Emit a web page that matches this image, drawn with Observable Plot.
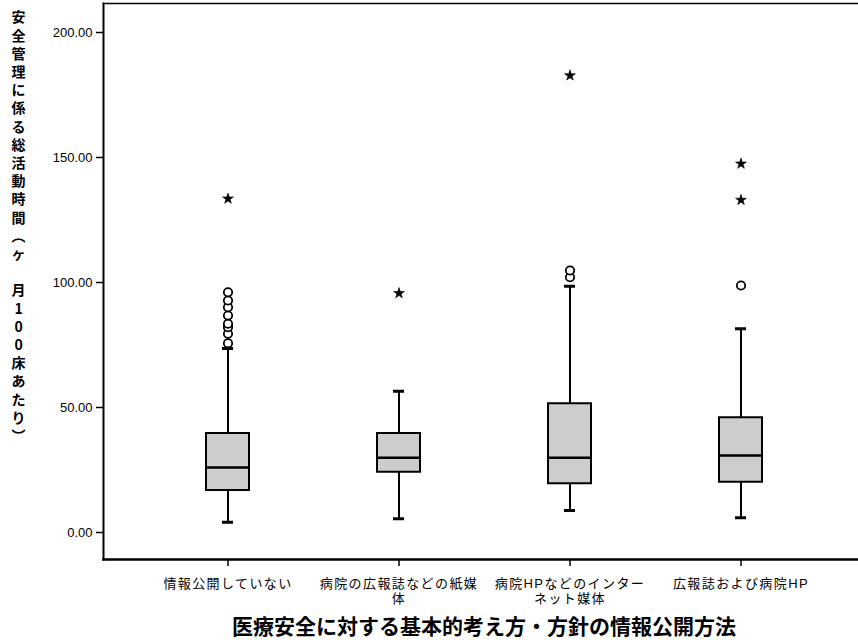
<!DOCTYPE html>
<html><head><meta charset="utf-8">
<script src="https://cdn.jsdelivr.net/npm/d3@7"></script>
<script src="https://cdn.jsdelivr.net/npm/@observablehq/plot@0.6"></script>
<style>body{margin:0;background:#fff;overflow:hidden}</style>
</head><body><div id="chart"></div>
<script>
const categories = ["情報公開していない", "病院の広報誌などの紙媒\n体", "病院HPなどのインター\nネット媒体", "広報誌および病院HP"];
const whiskerLow = [4.1, 5.5, 8.8, 5.9];
const q1 = [16.8, 24.1, 19.5, 20.1];
const median = [26.0, 29.9, 29.9, 30.8];
const q3 = [39.6, 39.6, 51.5, 45.9];
const whiskerHigh = [73.6, 56.5, 98.5, 81.5];
const outliers = [[75.7, 79.5, 82.1, 83.5, 86.8, 90.1, 92.8, 96.1], [], [102.1, 104.8], [98.8]];
const extremes = [[133.5], [95.7], [182.8], [133.0, 147.5]];
const yTicks = [0, 50, 100, 150, 200];
const yLabel = "安全管理に係る総活動時間︵ヶ　月100床あたり︶";
const xTitle = "医療安全に対する基本的考え方・方針の情報公開方法";

const stats = categories.map((c, i) => ({cat: c, low: whiskerLow[i], q1: q1[i], med: median[i], q3: q3[i], high: whiskerHigh[i]}));
const circleData = categories.flatMap((c, i) => outliers[i].map(v => ({cat: c, v})));
const starData = categories.flatMap((c, i) => extremes[i].map(v => ({cat: c, v})));

const chart = Plot.plot({
  width: 858, height: 643,
  marginLeft: 103, marginRight: 0, marginTop: 3, marginBottom: 84,
  style: {fontFamily: "'Liberation Sans', 'Noto Sans CJK JP', sans-serif", background: "#fff", color: "#000"},
  x: {type: "band", domain: categories, range: [118.7, 848.3], paddingInner: 0.75, paddingOuter: 0.5, label: null},
  y: {domain: [-10.8, 211.6], label: null},
  marks: [
    Plot.frame({anchor: "top", strokeWidth: 1.5}),
    Plot.frame({anchor: "bottom", strokeWidth: 2.5}),
    Plot.frame({anchor: "left", strokeWidth: 2}),
    Plot.axisY({ticks: yTicks, tickFormat: d3.format(".2f"), tickSize: 7, tickPadding: 4, fontSize: 13, strokeWidth: 1.5}),
    Plot.axisX({tickSize: 7, tickPadding: 11, fontSize: 13, lineHeight: 1.15, strokeWidth: 1.5}),
    Plot.ruleX(stats, {x: "cat", y1: "low", y2: "q1", strokeWidth: 2}),
    Plot.ruleX(stats, {x: "cat", y1: "q3", y2: "high", strokeWidth: 2}),
    Plot.barY(stats, {x: "cat", y1: "q1", y2: "q3", fill: "#cdcdcd", stroke: "#000", strokeWidth: 2}),
    Plot.tickY(stats, {x: "cat", y: "med", strokeWidth: 2.5}),
    Plot.tickY(stats, {x: "cat", y: "low", strokeWidth: 3, inset: 16}),
    Plot.tickY(stats, {x: "cat", y: "high", strokeWidth: 3, inset: 16}),
    Plot.dot(circleData, {x: "cat", y: "v", r: 4.2, stroke: "#000", fill: "#fff", strokeWidth: 1.8}),
    Plot.dot(starData, {x: "cat", y: "v", symbol: "star", r: 3.4, fill: "#000", stroke: "#000", strokeWidth: 0.6}),
    Plot.text([yLabel], {frameAnchor: "top-left", dx: -85, dy: 6, text: d => Array.from(d).join("\n"), lineAnchor: "top", textAnchor: "middle", fontSize: 14, fontWeight: "bold", lineHeight: 1.3, fontFamily: "'Noto Sans CJK JP', sans-serif"}),
    Plot.text([xTitle], {frameAnchor: "bottom", dx: 3, dy: 68, lineAnchor: "middle", fontSize: 21, fontWeight: "bold", fontFamily: "'Noto Sans CJK JP', sans-serif"})
  ]
});
// Wider character pitch for the category labels
d3.select(chart).selectAll("g[aria-label='x-axis tick label'] text").style("letter-spacing", "1.4px");
document.getElementById("chart").appendChild(chart);
</script>
</body></html>
